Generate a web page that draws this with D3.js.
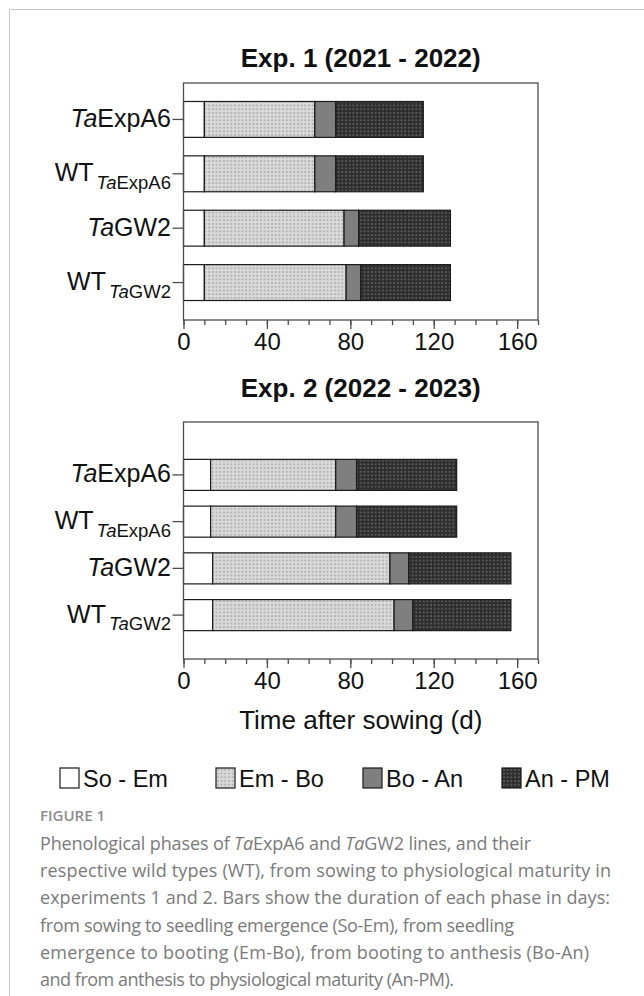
<!DOCTYPE html>
<html>
<head>
<meta charset="utf-8">
<script src="https://cdn.jsdelivr.net/npm/d3@7"></script>
<style>
  body { margin: 0; background: #fff; }
  svg { display: block; }
</style>
</head>
<body>
<svg id="fig" width="644" height="996"></svg>
<script>
// lines (rows, top to bottom)
var lines = ["TaExpA6", "WT_TaExpA6", "TaGW2", "WT_TaGW2"];
var phases = ["So - Em", "Em - Bo", "Bo - An", "An - PM"];

// phase durations in days, one value per line
var exp1SoEm = [10, 10, 10, 10];
var exp1EmBo = [53, 53, 67, 68];
var exp1BoAn = [10, 10, 7, 7];
var exp1AnPM = [42, 42, 44, 43];

var exp2SoEm = [13, 13, 14, 14];
var exp2EmBo = [60, 60, 85, 87];
var exp2BoAn = [10, 10, 9, 9];
var exp2AnPM = [48, 48, 49, 47];

var xTicks = [0, 40, 80, 120, 160];
var xMinorTicks = d3.range(0, 171, 10);

var captionLines = [
  [["Phenological phases of ", 0], ["Ta", 1], ["ExpA6 and ", 0], ["Ta", 1], ["GW2 lines, and their", 0]],
  [["respective wild types (WT), from sowing to physiological maturity in", 0]],
  [["experiments 1 and 2. Bars show the duration of each phase in days:", 0]],
  [["from sowing to seedling emergence (So-Em), from seedling", 0]],
  [["emergence to booting (Em-Bo), from booting to anthesis (Bo-An)", 0]],
  [["and from anthesis to physiological maturity (An-PM).", 0]]
];
// right end of each caption line
var captionEnds = [531, 611, 610, 514, 589, 454];

function rows(a, b, c, d) {
  return lines.map(function (l, i) {
    return {line: l, "So - Em": a[i], "Em - Bo": b[i], "Bo - An": c[i], "An - PM": d[i]};
  });
}

var panels = [
  {title: "Exp. 1 (2021 - 2022)", data: rows(exp1SoEm, exp1EmBo, exp1BoAn, exp1AnPM),
   top: 83, titleGap: 16, bandTop: 83, bandBottom: 319, inner: 0.34, outer: 0.34, axisTitle: false},
  {title: "Exp. 2 (2022 - 2023)", data: rows(exp2SoEm, exp2EmBo, exp2BoAn, exp2AnPM),
   top: 422, titleGap: 25, bandTop: 436, bandBottom: 654, inner: 0.336, outer: 0.5, axisTitle: true}
];

var svg = d3.select("#fig");
var FONT = "'Liberation Sans', Arial, sans-serif";
var left = 183.5, right = 538, plotH = 237;

// page frame
svg.append("rect")
  .attr("x", 9.5).attr("y", 9.5)
  .attr("width", 700).attr("height", 1100)
  .attr("fill", "none").attr("stroke", "#c8c8c8").attr("stroke-width", 1);

// fill patterns
var defs = svg.append("defs");
var pLight = defs.append("pattern").attr("id", "dotsLight")
  .attr("patternUnits", "userSpaceOnUse").attr("width", 3.7).attr("height", 3.7);
pLight.append("rect").attr("width", 3.7).attr("height", 3.7).attr("fill", "#d9d9d9");
pLight.append("rect").attr("x", 1.4).attr("y", 1.4).attr("width", 1).attr("height", 1).attr("fill", "#555");

var pDark = defs.append("pattern").attr("id", "dotsDark")
  .attr("patternUnits", "userSpaceOnUse").attr("width", 3.7).attr("height", 3.7);
pDark.append("rect").attr("width", 3.7).attr("height", 3.7).attr("fill", "#2e2e2e");
pDark.append("rect").attr("x", 1.4).attr("y", 1.4).attr("width", 1).attr("height", 1).attr("fill", "#c4c4c4");

var fills = {"So - Em": "#ffffff", "Em - Bo": "url(#dotsLight)", "Bo - An": "#7f7f7f", "An - PM": "url(#dotsDark)"};

var x = d3.scaleLinear().domain([0, 170]).range([left, right]);
var stack = d3.stack().keys(phases);

// y tick label with italic "Ta" and subscripts for WT
function writeLabel(sel, name) {
  var wt = name.indexOf("WT_") === 0;
  var gene = wt ? name.slice(3) : name;
  if (wt) {
    sel.append("tspan").attr("font-size", 25).text("WT");
    sel.append("tspan").attr("font-size", 18.5).attr("dx", 3).attr("dy", 7.5)
      .attr("font-style", "italic").text(gene.slice(0, 2));
    sel.append("tspan").attr("font-size", 18.5).text(gene.slice(2));
  } else {
    sel.append("tspan").attr("font-size", 25).attr("font-style", "italic").text(gene.slice(0, 2));
    sel.append("tspan").attr("font-size", 25).text(gene.slice(2));
  }
}

panels.forEach(function (p) {
  var g = svg.append("g");
  var bottom = p.top + plotH;
  var y = d3.scaleBand().domain(lines).range([p.bandTop, p.bandBottom])
    .paddingInner(p.inner).paddingOuter(p.outer);

  g.append("text")
    .attr("x", (left + right) / 2).attr("y", p.top - p.titleGap)
    .attr("text-anchor", "middle")
    .attr("font-family", FONT).attr("font-size", 26).attr("font-weight", "bold")
    .attr("fill", "#111")
    .text(p.title);

  // bars
  var series = stack(p.data);
  g.selectAll(".phase")
    .data(series)
    .enter().append("g")
    .attr("fill", function (s) { return fills[s.key]; })
    .selectAll("rect")
    .data(function (s) { return s; })
    .enter().append("rect")
    .attr("x", function (d) { return x(d[0]); })
    .attr("width", function (d) { return x(d[1]) - x(d[0]); })
    .attr("y", function (d) { return y(d.data.line); })
    .attr("height", y.bandwidth())
    .attr("stroke", "#1a1a1a").attr("stroke-width", 1.2);

  // frame of the plot
  g.append("rect")
    .attr("x", left).attr("y", p.top)
    .attr("width", right - left).attr("height", plotH)
    .attr("fill", "none").attr("stroke", "#4d4d4d").attr("stroke-width", 1.3);

  // x axis
  var xAxisMinor = d3.axisBottom(x).tickValues(xMinorTicks).tickSize(5).tickFormat("");
  g.append("g").attr("transform", "translate(0," + bottom + ")").call(xAxisMinor)
    .call(function (a) { a.select(".domain").remove(); a.selectAll("line").attr("stroke", "#4d4d4d").attr("stroke-width", 1.3); });
  var xAxis = d3.axisBottom(x).tickValues(xTicks).tickSize(9).tickPadding(4);
  g.append("g").attr("transform", "translate(0," + bottom + ")").call(xAxis)
    .call(function (a) {
      a.select(".domain").remove();
      a.selectAll("line").attr("stroke", "#4d4d4d").attr("stroke-width", 1.3);
      a.selectAll("text").attr("font-family", FONT).attr("font-size", 24).attr("fill", "#111");
    });

  // y axis
  var yAxis = d3.axisLeft(y).tickSize(11).tickFormat("");
  var ya = g.append("g").attr("transform", "translate(" + left + ",0)").call(yAxis);
  ya.select(".domain").remove();
  ya.selectAll("line").attr("stroke", "#4d4d4d").attr("stroke-width", 1.3);

  lines.forEach(function (l) {
    var t = g.append("text")
      .attr("x", left - 12.5)
      .attr("y", y(l) + y.bandwidth() / 2 + 7.5)
      .attr("text-anchor", "end")
      .attr("font-family", FONT).attr("fill", "#111");
    writeLabel(t, l);
  });

  if (p.axisTitle) {
    g.append("text")
      .attr("x", (left + right) / 2).attr("y", bottom + 70)
      .attr("text-anchor", "middle")
      .attr("font-family", FONT).attr("font-size", 26).attr("fill", "#111")
      .text("Time after sowing (d)");
  }
});

// legend
var legendX = [60, 216, 363, 502];
var leg = svg.append("g").selectAll("g").data(phases).enter().append("g")
  .attr("transform", function (d, i) { return "translate(" + legendX[i] + ",768)"; });
leg.append("rect").attr("width", 19).attr("height", 20)
  .attr("fill", function (d) { return fills[d]; })
  .attr("stroke", "#1a1a1a").attr("stroke-width", 1.2);
leg.append("text").attr("x", 23).attr("y", 18.5)
  .attr("font-family", FONT).attr("font-size", 23.5).attr("fill", "#111")
  .text(function (d) { return d; });

// caption
var CAP = "'Open Sans', 'Noto Sans', sans-serif";
svg.append("text").attr("x", 40).attr("y", 821)
  .attr("font-family", CAP).attr("font-size", 15).attr("font-weight", 600)
  .attr("fill", "#8c8c8c").text("FIGURE 1");

captionLines.forEach(function (parts, i) {
  var t = svg.append("text").attr("x", 40).attr("y", 850 + i * 27.2)
    .attr("font-family", CAP).attr("font-size", 18).attr("fill", "#7a7a7a")
    .attr("textLength", captionEnds[i] - 40).attr("lengthAdjust", "spacing");
  parts.forEach(function (pt) {
    t.append("tspan").attr("font-style", pt[1] ? "italic" : null).text(pt[0]);
  });
});
</script>
</body>
</html>
